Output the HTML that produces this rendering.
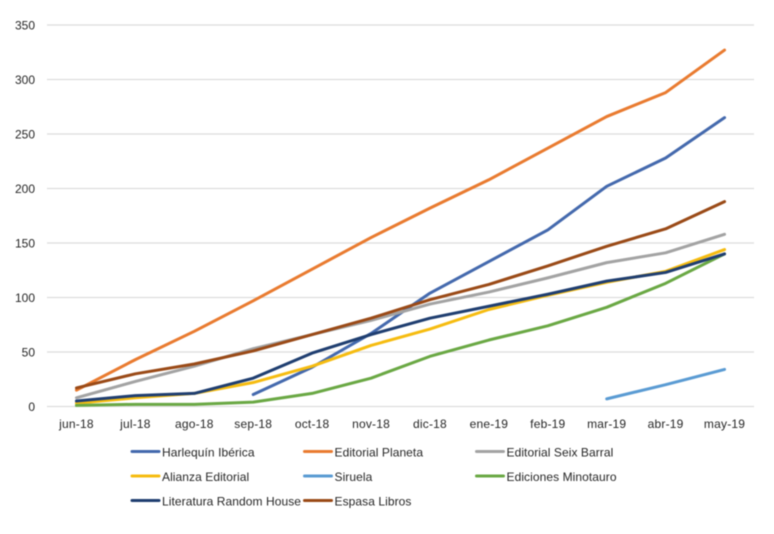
<!DOCTYPE html>
<html lang="es">
<head>
<meta charset="utf-8">
<title>Line chart</title>
<style>
html,body{margin:0;padding:0;background:#fff;}
body{width:774px;height:534px;overflow:hidden;}
svg{display:block;filter:blur(0.4px);}
text{font-family:"Liberation Sans",sans-serif;font-size:12px;fill:#262626;}
</style>
</head>
<body>
<svg id="chart" width="774" height="534" viewBox="0 0 774 534"></svg>
<script>
const categories = ["jun-18","jul-18","ago-18","sep-18","oct-18","nov-18","dic-18","ene-19","feb-19","mar-19","abr-19","may-19"];
const yTicks = [0,50,100,150,200,250,300,350];
const seriesNames = ["Harlequín Ibérica","Editorial Planeta","Editorial Seix Barral","Alianza Editorial","Siruela","Ediciones Minotauro","Literatura Random House","Espasa Libros"];
const seriesColors = ["#4469ad","#e97b30","#a3a3a3","#f6bc10","#5a9bd3","#6aa844","#1f3e70","#9a4a17"];
const harlequin = [null,null,null,11,36,67,104,133,162,202,228,265];
const planeta = [15,43,69,97,126,155,182,208,237,266,288,327];
const seixBarral = [8,23,37,53,66,79,94,105,118,132,141,158];
const alianza = [3,8,12,22,37,56,71,89,102,114,124,144];
const siruela = [null,null,null,null,null,null,null,null,null,7,20,34];
const minotauro = [1,2,2,4,12,26,46,61,74,91,113,140];
const randomHouse = [5,10,12,26,49,66,81,92,103,115,123,140];
const espasa = [17,30,39,51,66,81,98,112,129,147,163,188];
const allSeries = [harlequin,planeta,seixBarral,alianza,siruela,minotauro,randomHouse,espasa];

const NS = "http://www.w3.org/2000/svg";
const svg = document.getElementById("chart");
const plotLeft = 47, plotRight = 754, plotBottom = 406.5, plotTop = 25;
const yMax = 350;
function xScale(i){ return plotLeft + (i + 0.5) * (plotRight - plotLeft) / categories.length; }
function yScale(v){ return plotBottom - v * (plotBottom - plotTop) / yMax; }
function make(tag, attrs, parent){
  const el = document.createElementNS(NS, tag);
  for (const k in attrs) el.setAttribute(k, attrs[k]);
  (parent || svg).appendChild(el);
  return el;
}

yTicks.forEach(function(t){
  const g = make("line", {x1:plotLeft, x2:plotRight, y1:yScale(t), y2:yScale(t), stroke:"#dcdcdc", "stroke-width":1.3});
  
  
  const l = make("text", {x:35, y:yScale(t) + 4.5, "text-anchor":"end"});
  l.textContent = t;
  
  
});

categories.forEach(function(c, i){
  const l = make("text", {x:xScale(i), y:428, "text-anchor":"middle", "letter-spacing":"0.2"});
  l.textContent = c;
  
  
});

allSeries.forEach(function(values, s){
  let d = "";
  let pen = false;
  values.forEach(function(v, i){
    if (v === null) { pen = false; return; }
    d += (pen ? "L" : "M") + xScale(i).toFixed(2) + " " + yScale(v).toFixed(2);
    pen = true;
  });
  const p = make("path", {d:d, fill:"none", stroke:seriesColors[s], "stroke-width":3, "stroke-linejoin":"round", "stroke-linecap":"round"});
  
  
});

const legendColumns = [132, 304.5, 476.5];
const legendRows = [451.5, 476, 500.5];
seriesNames.forEach(function(name, i){
  const cx = legendColumns[i % 3];
  const cy = legendRows[Math.floor(i / 3)];
  const g = make("g", {});
  
  
  const sw = make("line", {x1:cx, x2:cx + 27, y1:cy, y2:cy, stroke:seriesColors[i], "stroke-width":3, "stroke-linecap":"round"}, g);
  
  
  const t = make("text", {x:cx + 30, y:cy + 5, "letter-spacing":"0.07"}, g);
  t.textContent = name;
  
  
});
</script>
</body>
</html>
